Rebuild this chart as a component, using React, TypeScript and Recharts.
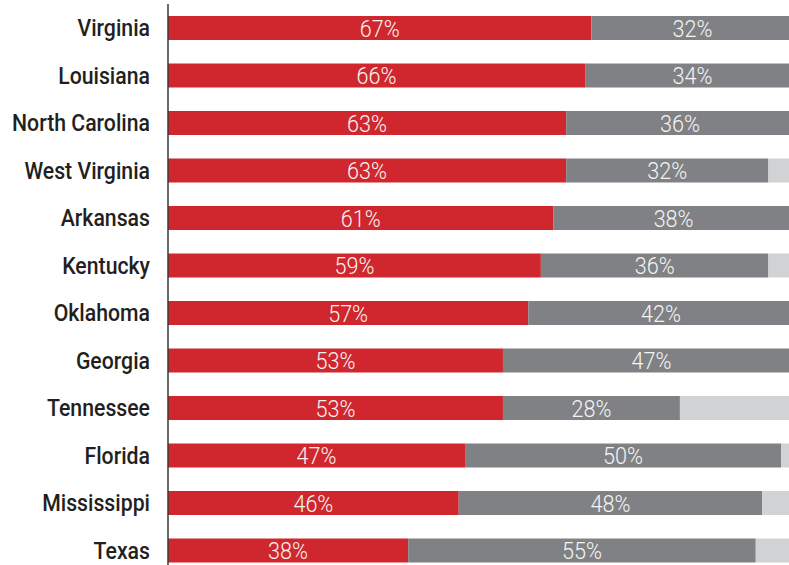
import { Bar, BarChart, LabelList, XAxis, YAxis } from "recharts";

const STATES = [
  "Virginia",
  "Louisiana",
  "North Carolina",
  "West Virginia",
  "Arkansas",
  "Kentucky",
  "Oklahoma",
  "Georgia",
  "Tennessee",
  "Florida",
  "Mississippi",
  "Texas",
];
const RED_PCT = [67, 66, 63, 63, 61, 59, 57, 53, 53, 47, 46, 38];
const GRAY_PCT = [32, 34, 36, 32, 38, 36, 42, 47, 28, 50, 48, 55];
const OTHER_PCT = [1, 0, 1, 5, 1, 5, 1, 0, 19, 3, 6, 7];

const FONT = "Roboto, 'Liberation Sans', sans-serif";

const data = STATES.map((state, i) => ({
  state,
  red: RED_PCT[i],
  gray: GRAY_PCT[i],
  other: OTHER_PCT[i],
}));

// no condensed face installed, so squeeze Roboto horizontally
function StateTick(props: any) {
  const { x, y, payload } = props;
  return (
    <g transform={`translate(${x},${y})`}>
      <text
        transform="scale(0.885,1)"
        textAnchor="end"
        dy="0.36em"
        fill="#231f20"
        fontSize={24}
        fontWeight={500}
        fontFamily={FONT}
      >
        {payload.value}
      </text>
    </g>
  );
}

function PctLabel(props: any) {
  const { x, y, width, height, value } = props;
  if (!value) return null;
  const cx = x + width / 2;
  const cy = y + height / 2;
  return (
    <g transform={`translate(${cx},${cy})`}>
      <text
        transform="scale(0.9,1)"
        textAnchor="middle"
        dy="0.36em"
        fill="#f4f4f4"
        fontSize={24}
        fontWeight={300}
        fontFamily={FONT}
      >
        {`${value}%`}
      </text>
    </g>
  );
}

export default function App() {
  return (
    <div style={{ position: "absolute", left: 0, top: 0, width: 789, height: 565, overflow: "hidden", background: "#fff" }}>
      <BarChart
        width={800}
        height={575}
        data={data}
        layout="vertical"
        margin={{ top: 4, right: 0, bottom: 1, left: 0 }}
      >
        <XAxis type="number" domain={[0, 100]} hide />
        <YAxis
          type="category"
          dataKey="state"
          width={168}
          tickLine={false}
          axisLine={{ stroke: "#3a3a3a", strokeWidth: 1.5 }}
          tickMargin={12}
          tick={<StateTick />}
        />
        <Bar dataKey="red" stackId="s" fill="#cf272d" barSize={24} isAnimationActive={false}>
          <LabelList dataKey="red" content={<PctLabel />} />
        </Bar>
        <Bar dataKey="gray" stackId="s" fill="#808184" barSize={24} isAnimationActive={false}>
          <LabelList dataKey="gray" content={<PctLabel />} />
        </Bar>
        <Bar dataKey="other" stackId="s" fill="#d1d2d4" barSize={24} isAnimationActive={false} />
      </BarChart>
    </div>
  );
}
